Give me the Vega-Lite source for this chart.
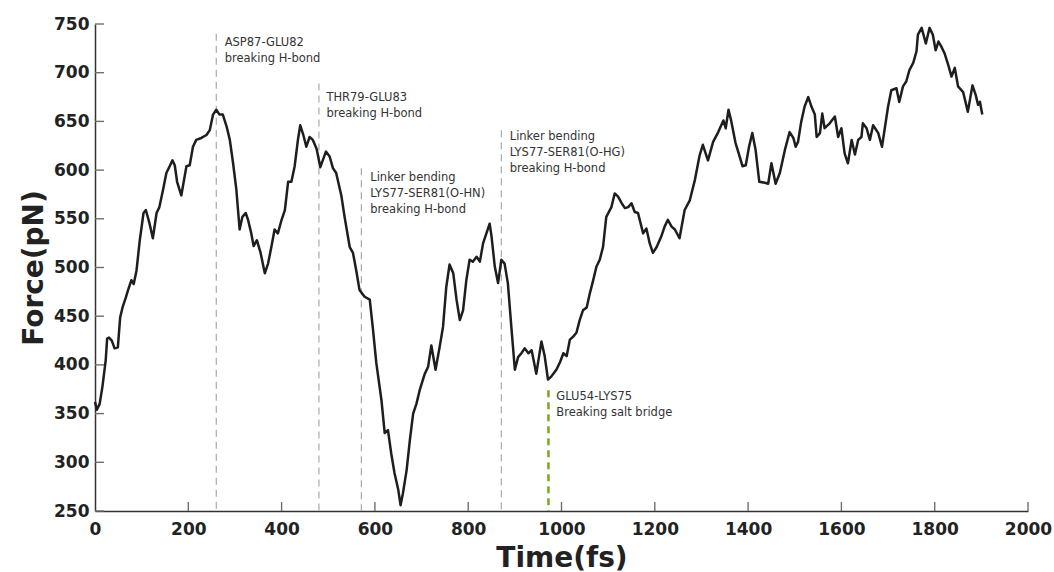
{
  "$schema": "https://vega.github.io/schema/vega-lite/v6.json",
  "width": 933,
  "height": 487,
  "autosize": {"type": "none"},
  "padding": {"left": 95, "top": 24, "right": 26, "bottom": 61},
  "background": "white",
  "config": {
    "view": {"stroke": null},
    "axis": {
      "grid": false,
      "domainColor": "#333333",
      "domainWidth": 1.5,
      "ticks": false,
      "labelFlush": false,
      "labelFont": "DejaVu Sans",
      "labelFontWeight": "bold",
      "labelFontSize": 17,
      "labelColor": "#222222",
      "titleFont": "DejaVu Sans",
      "titleFontWeight": "bold",
      "titleFontSize": 28,
      "titleColor": "#222222"
    }
  },
  "layer": [
    {
      "data": {"values": [
        {"tx": 200}, {"tx": 400}, {"tx": 600}, {"tx": 800}, {"tx": 1000},
        {"tx": 1200}, {"tx": 1400}, {"tx": 1600}, {"tx": 1800}, {"tx": 2000}
      ]},
      "mark": {"type": "rule", "color": "#6f6f6f", "strokeWidth": 1.4},
      "encoding": {
        "x": {"field": "tx", "type": "quantitative"},
        "y": {"datum": 250},
        "y2": {"datum": 259.2}
      }
    },
    {
      "data": {"values": [
        {"ty": 250}, {"ty": 300}, {"ty": 350}, {"ty": 400}, {"ty": 450}, {"ty": 500},
        {"ty": 550}, {"ty": 600}, {"ty": 650}, {"ty": 700}, {"ty": 750}
      ]},
      "mark": {"type": "rule", "color": "#6f6f6f", "strokeWidth": 1.4},
      "encoding": {
        "y": {"field": "ty", "type": "quantitative"},
        "x": {"datum": 0},
        "x2": {"datum": 19.3}
      }
    },
    {
      "data": {"values": [
        {"t": 260, "top": 740},
        {"t": 480, "top": 689},
        {"t": 571, "top": 602},
        {"t": 871, "top": 641}
      ]},
      "mark": {"type": "rule", "color": "#aaaaaa", "strokeWidth": 1.2, "strokeDash": [7, 5]},
      "encoding": {
        "x": {"field": "t", "type": "quantitative"},
        "y": {"field": "top", "type": "quantitative"},
        "y2": {"datum": 250}
      }
    },
    {
      "data": {"values": [{"t": 972, "top": 374}]},
      "mark": {"type": "rule", "color": "#77aa22", "strokeWidth": 2.5, "strokeDash": [7, 5]},
      "encoding": {
        "x": {"field": "t", "type": "quantitative"},
        "y": {"field": "top", "type": "quantitative"},
        "y2": {"datum": 250}
      }
    },
    {
      "data": {"values": [
        {"t": 0, "f": 362}, {"t": 4, "f": 354}, {"t": 10, "f": 360}, {"t": 16, "f": 378}, {"t": 23, "f": 405},
        {"t": 26, "f": 427}, {"t": 30, "f": 428}, {"t": 36, "f": 425}, {"t": 42, "f": 417}, {"t": 49, "f": 418},
        {"t": 54, "f": 449}, {"t": 59, "f": 459}, {"t": 66, "f": 469}, {"t": 71, "f": 477}, {"t": 78, "f": 487},
        {"t": 83, "f": 483}, {"t": 89, "f": 497}, {"t": 96, "f": 528}, {"t": 104, "f": 556}, {"t": 109, "f": 559},
        {"t": 117, "f": 545}, {"t": 124, "f": 530}, {"t": 132, "f": 556}, {"t": 138, "f": 562}, {"t": 146, "f": 580},
        {"t": 153, "f": 597}, {"t": 160, "f": 604}, {"t": 166, "f": 610}, {"t": 171, "f": 605}, {"t": 176, "f": 588},
        {"t": 185, "f": 574}, {"t": 196, "f": 604}, {"t": 203, "f": 605}, {"t": 210, "f": 624}, {"t": 217, "f": 631},
        {"t": 228, "f": 633}, {"t": 239, "f": 636}, {"t": 246, "f": 641}, {"t": 253, "f": 657}, {"t": 260, "f": 662},
        {"t": 267, "f": 657}, {"t": 274, "f": 657}, {"t": 282, "f": 645}, {"t": 289, "f": 631}, {"t": 296, "f": 607},
        {"t": 303, "f": 580}, {"t": 310, "f": 539}, {"t": 316, "f": 552}, {"t": 323, "f": 556}, {"t": 328, "f": 549},
        {"t": 335, "f": 535}, {"t": 340, "f": 522}, {"t": 347, "f": 528}, {"t": 355, "f": 515}, {"t": 364, "f": 494},
        {"t": 371, "f": 504}, {"t": 378, "f": 521}, {"t": 385, "f": 539}, {"t": 392, "f": 535}, {"t": 400, "f": 549},
        {"t": 407, "f": 559}, {"t": 414, "f": 588}, {"t": 421, "f": 588}, {"t": 428, "f": 604}, {"t": 435, "f": 631},
        {"t": 440, "f": 646}, {"t": 446, "f": 637}, {"t": 453, "f": 624}, {"t": 460, "f": 634}, {"t": 467, "f": 631},
        {"t": 475, "f": 622}, {"t": 483, "f": 603}, {"t": 495, "f": 619}, {"t": 503, "f": 614}, {"t": 510, "f": 602},
        {"t": 517, "f": 597}, {"t": 528, "f": 574}, {"t": 535, "f": 552}, {"t": 546, "f": 521}, {"t": 553, "f": 515},
        {"t": 560, "f": 497}, {"t": 567, "f": 477}, {"t": 578, "f": 470}, {"t": 589, "f": 467}, {"t": 596, "f": 436},
        {"t": 603, "f": 402}, {"t": 614, "f": 364}, {"t": 621, "f": 330}, {"t": 628, "f": 333}, {"t": 635, "f": 309},
        {"t": 642, "f": 289}, {"t": 650, "f": 272}, {"t": 655, "f": 256}, {"t": 660, "f": 268}, {"t": 668, "f": 292},
        {"t": 675, "f": 323}, {"t": 682, "f": 350}, {"t": 689, "f": 360}, {"t": 696, "f": 374}, {"t": 707, "f": 391},
        {"t": 714, "f": 398}, {"t": 721, "f": 420}, {"t": 730, "f": 395}, {"t": 739, "f": 419}, {"t": 746, "f": 439},
        {"t": 753, "f": 480}, {"t": 760, "f": 503}, {"t": 768, "f": 494}, {"t": 775, "f": 467}, {"t": 782, "f": 446},
        {"t": 789, "f": 456}, {"t": 796, "f": 487}, {"t": 803, "f": 508}, {"t": 810, "f": 506}, {"t": 818, "f": 511},
        {"t": 825, "f": 506}, {"t": 832, "f": 525}, {"t": 839, "f": 535}, {"t": 846, "f": 545}, {"t": 850, "f": 532},
        {"t": 857, "f": 501}, {"t": 864, "f": 484}, {"t": 871, "f": 508}, {"t": 878, "f": 504}, {"t": 885, "f": 484},
        {"t": 893, "f": 436}, {"t": 900, "f": 395}, {"t": 907, "f": 408}, {"t": 914, "f": 412}, {"t": 921, "f": 417},
        {"t": 929, "f": 412}, {"t": 936, "f": 415}, {"t": 946, "f": 391}, {"t": 957, "f": 424}, {"t": 964, "f": 409},
        {"t": 971, "f": 385}, {"t": 978, "f": 388}, {"t": 989, "f": 395}, {"t": 997, "f": 403}, {"t": 1004, "f": 412},
        {"t": 1011, "f": 409}, {"t": 1018, "f": 426}, {"t": 1025, "f": 429}, {"t": 1032, "f": 433}, {"t": 1039, "f": 446},
        {"t": 1046, "f": 456}, {"t": 1054, "f": 459}, {"t": 1061, "f": 474}, {"t": 1068, "f": 487}, {"t": 1075, "f": 501},
        {"t": 1082, "f": 508}, {"t": 1089, "f": 521}, {"t": 1096, "f": 552}, {"t": 1107, "f": 562}, {"t": 1114, "f": 576},
        {"t": 1121, "f": 573}, {"t": 1129, "f": 566}, {"t": 1136, "f": 561}, {"t": 1143, "f": 562}, {"t": 1150, "f": 566},
        {"t": 1157, "f": 557}, {"t": 1164, "f": 556}, {"t": 1175, "f": 535}, {"t": 1182, "f": 540}, {"t": 1189, "f": 525},
        {"t": 1196, "f": 515}, {"t": 1204, "f": 521}, {"t": 1214, "f": 532}, {"t": 1221, "f": 542}, {"t": 1228, "f": 549},
        {"t": 1236, "f": 542}, {"t": 1243, "f": 539}, {"t": 1253, "f": 530}, {"t": 1264, "f": 559}, {"t": 1275, "f": 569},
        {"t": 1286, "f": 590}, {"t": 1296, "f": 615}, {"t": 1303, "f": 626}, {"t": 1314, "f": 610}, {"t": 1325, "f": 629},
        {"t": 1336, "f": 639}, {"t": 1347, "f": 651}, {"t": 1352, "f": 643}, {"t": 1358, "f": 662}, {"t": 1364, "f": 650},
        {"t": 1373, "f": 628}, {"t": 1380, "f": 617}, {"t": 1388, "f": 604}, {"t": 1395, "f": 605}, {"t": 1402, "f": 624},
        {"t": 1409, "f": 638}, {"t": 1416, "f": 621}, {"t": 1424, "f": 588}, {"t": 1436, "f": 587}, {"t": 1443, "f": 586},
        {"t": 1450, "f": 607}, {"t": 1459, "f": 586}, {"t": 1468, "f": 597}, {"t": 1479, "f": 621}, {"t": 1489, "f": 639},
        {"t": 1497, "f": 633}, {"t": 1502, "f": 624}, {"t": 1507, "f": 629}, {"t": 1514, "f": 650}, {"t": 1521, "f": 665},
        {"t": 1529, "f": 675}, {"t": 1536, "f": 665}, {"t": 1543, "f": 657}, {"t": 1547, "f": 634}, {"t": 1554, "f": 638},
        {"t": 1559, "f": 658}, {"t": 1564, "f": 643}, {"t": 1575, "f": 648}, {"t": 1586, "f": 655}, {"t": 1593, "f": 634},
        {"t": 1600, "f": 643}, {"t": 1607, "f": 617}, {"t": 1614, "f": 607}, {"t": 1622, "f": 631}, {"t": 1629, "f": 616},
        {"t": 1636, "f": 631}, {"t": 1643, "f": 634}, {"t": 1646, "f": 648}, {"t": 1654, "f": 643}, {"t": 1661, "f": 631},
        {"t": 1668, "f": 646}, {"t": 1679, "f": 638}, {"t": 1687, "f": 624}, {"t": 1693, "f": 643}, {"t": 1700, "f": 665},
        {"t": 1707, "f": 682}, {"t": 1718, "f": 684}, {"t": 1724, "f": 670}, {"t": 1732, "f": 686}, {"t": 1739, "f": 691},
        {"t": 1746, "f": 703}, {"t": 1754, "f": 710}, {"t": 1761, "f": 722}, {"t": 1764, "f": 739}, {"t": 1772, "f": 746},
        {"t": 1781, "f": 730}, {"t": 1789, "f": 746}, {"t": 1796, "f": 739}, {"t": 1802, "f": 723}, {"t": 1808, "f": 732},
        {"t": 1814, "f": 727}, {"t": 1821, "f": 720}, {"t": 1829, "f": 708}, {"t": 1836, "f": 696}, {"t": 1843, "f": 705},
        {"t": 1850, "f": 686}, {"t": 1861, "f": 680}, {"t": 1871, "f": 660}, {"t": 1881, "f": 687}, {"t": 1888, "f": 677},
        {"t": 1893, "f": 667}, {"t": 1897, "f": 670}, {"t": 1902, "f": 657}
      ]},
      "mark": {"type": "line", "color": "#1e1e1e", "strokeWidth": 2.5, "strokeJoin": "round"},
      "encoding": {
        "x": {
          "field": "t", "type": "quantitative",
          "scale": {"domain": [0, 2000], "nice": false, "zero": false},
          "axis": {"title": "Time(fs)", "format": "d", "labelFlush": false, "values": [0, 200, 400, 600, 800, 1000, 1200, 1400, 1600, 1800, 2000], "labelPadding": 10, "titlePadding": 7}
        },
        "y": {
          "field": "f", "type": "quantitative",
          "scale": {"domain": [250, 750], "nice": false, "zero": false},
          "axis": {"title": "Force(pN)", "format": "d", "labelFlush": false, "values": [250, 300, 350, 400, 450, 500, 550, 600, 650, 700, 750], "labelPadding": 6, "titlePadding": 5}
        }
      }
    },
    {
      "data": {"values": [
        {"t": 278, "f": 727.7, "label": "ASP87-GLU82\nbreaking H-bond"},
        {"t": 496, "f": 671.3, "label": "THR79-GLU83\nbreaking H-bond"},
        {"t": 590, "f": 589.1, "label": "Linker bending\nLYS77-SER81(O-HN)\nbreaking H-bond"},
        {"t": 889, "f": 630.9, "label": "Linker bending\nLYS77-SER81(O-HG)\nbreaking H-bond"},
        {"t": 989, "f": 364, "label": "GLU54-LYS75\nBreaking salt bridge"}
      ]},
      "mark": {"type": "text", "align": "left", "baseline": "alphabetic", "font": "DejaVu Sans", "fontSize": 11.5, "lineHeight": 16, "lineBreak": "\n", "color": "#333333"},
      "encoding": {
        "x": {"field": "t", "type": "quantitative"},
        "y": {"field": "f", "type": "quantitative"},
        "text": {"field": "label", "type": "nominal"}
      }
    }
  ]
}
